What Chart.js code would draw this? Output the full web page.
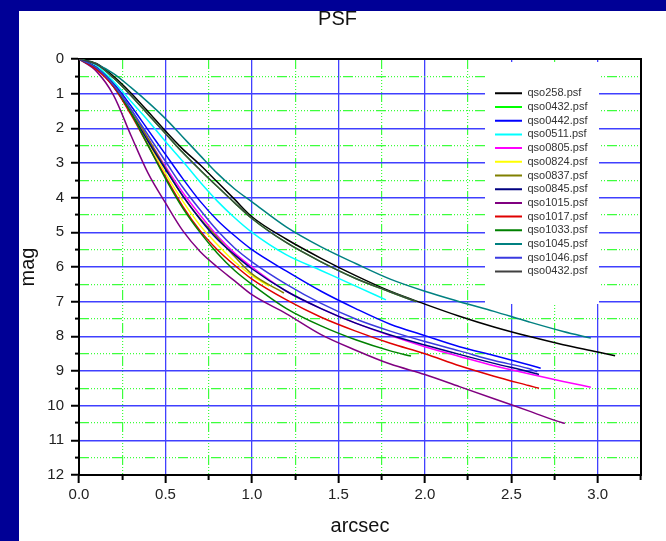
<!DOCTYPE html>
<html><head><meta charset="utf-8">
<script src="https://cdn.jsdelivr.net/npm/chart.js@4/dist/chart.umd.min.js"></script>
<style>
html,body{margin:0;padding:0;background:#000096;overflow:hidden;width:666px;height:541px;}
#white{position:absolute;left:19px;top:11px;width:647px;height:530px;background:#fff;}
#c{position:absolute;left:0;top:0;}
</style></head><body>
<div id="white"></div>
<canvas id="c" width="666" height="541"></canvas>
<script>
// ---- data ----
const seriesNames = ['qso258.psf','qso0432.psf','qso0442.psf','qso0511.psf','qso0805.psf','qso0824.psf','qso0837.psf','qso0845.psf','qso1015.psf','qso1017.psf','qso1033.psf','qso1045.psf','qso1046.psf','qso0432.psf'];
const seriesColors = ['#000000','#00ff00','#0000ff','#00ffff','#ff00ff','#ffff00','#808000','#000080','#800080','#e00000','#008000','#008080','#3a3ae0','#404040'];
const arcsecGrid = [0,0.1,0.2,0.3,0.4,0.5,0.6,0.7,0.8,0.9,1.0,1.2,1.4,1.6,1.8,2.0,2.2,2.4,2.6,2.8,3.0];
const magQso258  = [0,0.13,0.5,0.98,1.52,2.08,2.6,3.05,3.55,4.05,4.55,5.2,5.75,6.25,6.7,7.07,7.42,7.73,8.0,8.24,8.45];
const magQso0432 = [0,0.15,0.55,1.05,1.6,2.15,2.7,3.2,3.68,4.15,4.6,5.3,5.85,6.33,6.72];
const magQso0442 = [0,0.22,0.7,1.35,2.05,2.75,3.45,4.1,4.65,5.1,5.5,6.12,6.7,7.2,7.65,7.98,8.3,8.55,8.82];
const magQso0511 = [0,0.2,0.65,1.22,1.78,2.38,2.95,3.55,4.1,4.58,5.0,5.65,6.1,6.55];
const magQso0805 = [0,0.25,0.78,1.5,2.3,3.1,3.85,4.5,5.1,5.6,6.0,6.7,7.2,7.62,7.98,8.3,8.58,8.85,9.08,9.3];
const magQso0824 = [0,0.28,0.78,1.5,2.4,3.3,4.1,4.8,5.35,5.85,6.25];
const magQso0837 = [0,0.28,0.75,1.45,2.3,3.15,3.95,4.6,5.15,5.7,6.2];
const magQso0845 = [0,0.25,0.8,1.55,2.38,3.18,3.95,4.62,5.2,5.65,6.05,6.7,7.2,7.62,7.96,8.25,8.52,8.78,9.02];
const magQso1015 = [0,0.35,1.05,2.2,3.3,4.15,4.95,5.55,6.0,6.4,6.8,7.35,7.95,8.4,8.8,9.1,9.45,9.8,10.15,10.5];
const magQso1017 = [0,0.3,0.8,1.6,2.5,3.4,4.25,4.95,5.5,5.95,6.35,6.95,7.45,7.85,8.2,8.5,8.85,9.15,9.42];
const magQso1033 = [0,0.25,0.75,1.55,2.5,3.45,4.3,5.0,5.6,6.1,6.5,7.2,7.7,8.1,8.42];
const magQso1045 = [0,0.15,0.42,0.82,1.25,1.72,2.25,2.78,3.3,3.75,4.12,4.85,5.42,5.9,6.35,6.7,7.0,7.28,7.58,7.86];
const magQso1046 = [0,0.25,0.75,1.45,2.2,2.95,3.7,4.35,4.95,5.45,5.85,6.5,7.05,7.5,7.85,8.15,8.42,8.7,8.93];
const magQso0432b = [0,0.15,0.55,1.05,1.6,2.15,2.7,3.2,3.68,4.15,4.6,5.3,5.85,6.33,6.72];
const endArcsec = [3.10,1.95,2.67,1.775,2.96,1.1,1.185,2.66,2.81,2.66,1.92,2.96,2.65,1.95];
const endMag    = [8.56,7.0,8.92,6.95,9.47,6.55,6.75,9.1,10.51,9.5,8.57,8.05,9.02,7.0];
const seriesMags = [magQso258,magQso0432,magQso0442,magQso0511,magQso0805,magQso0824,magQso0837,magQso0845,magQso1015,magQso1017,magQso1033,magQso1045,magQso1046,magQso0432b];
const xTickLabels = ['0.0','0.5','1.0','1.5','2.0','2.5','3.0'];
const yTickLabels = ['0','1','2','3','4','5','6','7','8','9','10','11','12'];

// ---- build ----
const F = "'Liberation Sans', Arial, sans-serif";
const GREEN = '#3cff3c', BLUE = '#4040ff', NONE = 'rgba(0,0,0,0)';
const GREEN_DASH = [10,2,1,2,1,2,1,2,1,2,1,2,1,2,1,2];
const isHalf = v => Math.abs(v*2 - Math.round(v*2)) < 1e-6;
const isInt = v => Math.abs(v - Math.round(v)) < 1e-6;

const datasets = seriesNames.map((name, i) => {
  const pts = seriesMags[i].map((m, j) => ({x: arcsecGrid[j], y: m}));
  pts.push({x: endArcsec[i], y: endMag[i]});
  return {label: name, data: pts, borderColor: seriesColors[i], backgroundColor: seriesColors[i],
    borderWidth: 1.5, pointRadius: 0, showLine: true, fill: false,
    cubicInterpolationMode: 'monotone', order: seriesNames.length - i};
});

const legendPlace = {
  id: 'legendPlace',
  beforeUpdate(chart) {
    const lg = chart.legend;
    if (!lg || lg._placed) return;
    lg._placed = true;
    const fit0 = lg.fit.bind(lg);
    lg.fit = function () { fit0(); this.width = 0; };
    const draw0 = lg.draw.bind(lg);
    lg.draw = function () {
      const ctx = chart.ctx;
      ctx.save(); ctx.fillStyle = '#ffffff'; ctx.fillRect(485, 62, 114, 242); ctx.restore();
      draw0();
    };
  },
  afterLayout(chart) {
    const lg = chart.legend;
    lg.left = 492.3; lg.top = 85.1; lg.right = 600; lg.bottom = 305;
    lg.width = lg.right - lg.left; lg.height = lg.bottom - lg.top;
  }
};

new Chart(document.getElementById('c'), {
  type: 'scatter',
  data: {datasets},
  options: {
    responsive: false, animation: false, events: [], devicePixelRatio: 1,
    layout: {padding: {left: 19, right: 10, top: 0, bottom: 0}},
    plugins: {
      title: {display: true, text: 'PSF', color: '#111', font: {family: F, size: 20, weight: 'normal'}, padding: {top: 7, bottom: 28}},
      legend: {display: true, position: 'right', align: 'start',
        labels: {usePointStyle: true, pointStyle: 'line', pointStyleWidth: 27, boxHeight: 11,
          font: {family: F, size: 11}, color: '#333', padding: 2.7,
          generateLabels: chart => Chart.defaults.plugins.legend.labels.generateLabels(chart).map(l => Object.assign(l, {lineWidth: 2})),
          sort: (a, b) => a.datasetIndex - b.datasetIndex}},
      tooltip: {enabled: false}
    },
    scales: {
      x: {type: 'linear', position: 'bottom', weight: 1, min: 0, max: 3.25,
        afterFit(s) { s.height = 66; },
        ticks: {stepSize: 0.25, autoSkip: false, maxRotation: 0, padding: 3, color: '#222', font: {family: F, size: 15},
          callback: v => isHalf(v) ? xTickLabels[Math.round(v*2)] : ''},
        grid: {color: c => (c.tick && isHalf(c.tick.value) && c.tick.value > 0 && c.tick.value < 3.25) ? BLUE : NONE,
          lineWidth: 1.3, tickLength: 8, tickWidth: 2, tickColor: c => (c.tick && isHalf(c.tick.value)) ? '#000' : NONE},
        border: {display: true, color: '#000', width: 2},
        title: {display: true, text: 'arcsec', color: '#111', font: {family: F, size: 20}, padding: {top: 0, bottom: 2.7}}},
      xm: {type: 'linear', position: 'bottom', weight: 0, min: 0, max: 3.25,
        afterFit(s) { s.height = 0; },
        ticks: {display: false, stepSize: 0.25, autoSkip: false},
        grid: {color: c => (c.tick && !isHalf(c.tick.value)) ? GREEN : NONE, lineWidth: 1.2,
          drawTicks: true, tickLength: 5, tickWidth: 2, tickColor: c => (c.tick && !isHalf(c.tick.value)) ? '#000' : NONE},
        border: {display: false, dash: GREEN_DASH}},
      xt: {type: 'linear', position: 'top', min: 0, max: 3.25,
        ticks: {display: false, stepSize: 0.25},
        grid: {color: NONE, drawTicks: false},
        border: {display: true, color: '#000', width: 2}},
      y: {type: 'linear', position: 'left', weight: 1, reverse: true, min: 0, max: 12,
        afterFit(s) { s.width = 60; },
        ticks: {stepSize: 0.5, autoSkip: false, padding: 7, color: '#222', font: {family: F, size: 15},
          callback: v => isInt(v) ? yTickLabels[Math.round(v)] : ''},
        grid: {color: c => (c.tick && isInt(c.tick.value) && c.tick.value > 0 && c.tick.value < 12) ? BLUE : NONE,
          lineWidth: 1.5, tickLength: 8, tickWidth: 2, tickColor: c => (c.tick && isInt(c.tick.value)) ? '#000' : NONE},
        border: {display: true, color: '#000', width: 2},
        title: {display: true, text: 'mag', color: '#111', font: {family: F, size: 20}, padding: {top: -3, bottom: 0}}},
      ym: {type: 'linear', position: 'left', weight: 0, reverse: true, min: 0, max: 12,
        afterFit(s) { s.width = 0; },
        ticks: {display: false, stepSize: 0.5, autoSkip: false},
        grid: {color: c => (c.tick && !isInt(c.tick.value)) ? GREEN : NONE, lineWidth: 1.2,
          drawTicks: true, tickLength: 4, tickWidth: 2, tickColor: c => (c.tick && !isInt(c.tick.value)) ? '#000' : NONE},
        border: {display: false, dash: GREEN_DASH}},
      yr: {type: 'linear', position: 'right', min: 0, max: 12, reverse: true,
        afterFit(s) { s.width = 15; },
        ticks: {display: false, stepSize: 0.5},
        grid: {color: NONE, drawTicks: false},
        border: {display: true, color: '#000', width: 2}}
    }
  },
  plugins: [legendPlace]
});
</script>
</body></html>
